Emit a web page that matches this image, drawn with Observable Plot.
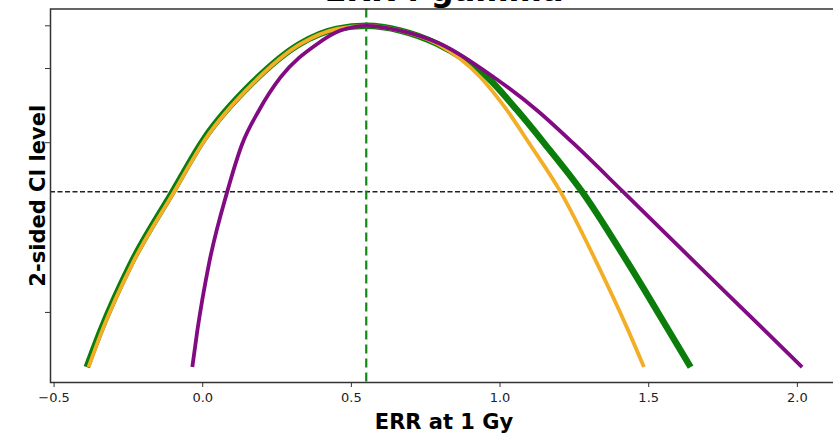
<!DOCTYPE html>
<html>
<head>
<meta charset="utf-8">
<script src="https://cdn.jsdelivr.net/npm/d3@7"></script>
<script src="https://cdn.jsdelivr.net/npm/@observablehq/plot@0.6"></script>
<style>
  html, body { margin: 0; padding: 0; background: #fff; overflow: hidden; }
  #chart { width: 840px; }
  #chart svg { display: block; max-width: none !important; width: 840px; height: 441px; font-family: "DejaVu Sans", sans-serif; }
</style>
</head>
<body>
<div id="chart"></div>
<script>
// ---- data ----
const titleText = "ERR : gamma";
const xLabel = "ERR at 1 Gy";
const yLabel = "2-sided CI level";

const xTicks = [-0.5, 0.0, 0.5, 1.0, 1.5, 2.0];
// deviance values for CI levels 0, 0.68, 0.90, 0.99 (labels hidden)
const yTicks = [0, 0.989, 2.706, 6.635];
const ci95 = 3.841;
const errEstimate = 0.55;

const orangeX   = [-0.384, -0.338, -0.237, -0.097, 0.009, 0.172, 0.329, 0.452, 0.551, 0.665, 0.789, 0.934, 1.024, 1.099, 1.204, 1.327, 1.431, 1.484];
const orangeDev = [7.90, 7.05, 5.51, 3.85, 2.62, 1.31, 0.42, 0.07, 0.0, 0.11, 0.42, 1.19, 1.96, 2.73, 3.85, 5.51, 7.05, 7.90];

const greenX    = [-0.390, -0.343, -0.242, -0.102, 0.004, 0.168, 0.326, 0.450, 0.551, 0.665, 0.789, 0.957, 1.058, 1.150, 1.277, 1.432, 1.567, 1.641];
const greenDev  = [7.90, 7.05, 5.51, 3.85, 2.62, 1.31, 0.42, 0.07, 0.0, 0.11, 0.42, 1.19, 1.96, 2.73, 3.85, 5.51, 7.05, 7.90];

const purpleX   = [-0.035, -0.018, 0.021, 0.082, 0.133, 0.189, 0.262, 0.385, 0.463, 0.551, 0.665, 0.800, 0.979, 1.125, 1.248, 1.415, 1.661, 1.890, 2.016];
const purpleDev = [7.90, 7.05, 5.51, 3.85, 2.73, 1.96, 1.19, 0.42, 0.11, 0.0, 0.11, 0.42, 1.19, 1.96, 2.73, 3.85, 5.51, 7.05, 7.90];

const toRows = (xs, ys) => xs.map((x, i) => ({x, y: ys[i]}));
const green = toRows(greenX, greenDev);
const orange = toRows(orangeX, orangeDev);
const purple = toRows(purpleX, purpleDev);

const fmt = d => d.toFixed(1).replace("-", "\u2212");

const chart = Plot.plot({
  width: 840,
  height: 441,
  marginLeft: 50,
  marginRight: 3,
  marginTop: 8.5,
  marginBottom: 59,
  style: {background: "#fff", fontFamily: "DejaVu Sans, sans-serif"},
  x: {domain: [-0.512, 2.135]},
  y: {domain: [8.257, -0.389]},
  marks: [
    Plot.ruleY([ci95], {stroke: "#222", strokeWidth: 1.4, strokeDasharray: "5,2.5"}),
    Plot.ruleX([errEstimate], {stroke: "#118a11", strokeWidth: 2.2, strokeDasharray: "9,5"}),
    Plot.line(green, {x: "x", y: "y", curve: "monotone-x", stroke: "#0a7d0a", strokeWidth: 6.5, strokeLinecap: "butt", strokeLinejoin: "round"}),
    Plot.line(orange, {x: "x", y: "y", curve: "monotone-x", stroke: "#f3ae28", strokeWidth: 3.8, strokeLinecap: "butt", strokeLinejoin: "round"}),
    Plot.line(purple, {x: "x", y: "y", curve: "monotone-x", stroke: "#820a82", strokeWidth: 3.8, strokeLinecap: "butt", strokeLinejoin: "round"}),
    Plot.frame({stroke: "#333", strokeWidth: 1.5}),
    Plot.axisX({ticks: xTicks, tickFormat: fmt, tickSize: 5, tickPadding: 5, fontSize: 13, stroke: "#333", fill: "#222", label: null}),
    Plot.axisY({ticks: yTicks, tickFormat: () => "", tickSize: 5, stroke: "#333", label: null}),
    Plot.text([xLabel], {frameAnchor: "bottom", dy: 46, lineAnchor: "bottom", text: d => d, fontSize: 21, fontWeight: "bold", fill: "#000"}),
    Plot.text([yLabel], {frameAnchor: "left", dx: -6, rotate: -90, textAnchor: "middle", lineAnchor: "bottom", text: d => d, fontSize: 21, fontWeight: "bold", fill: "#000"}),
    Plot.text([titleText], {frameAnchor: "top", dy: -8.5, lineAnchor: "bottom", text: d => d, fontSize: 32, fontWeight: "bold", fill: "#000"})
  ]
});
document.getElementById("chart").appendChild(chart);
</script>
</body>
</html>
